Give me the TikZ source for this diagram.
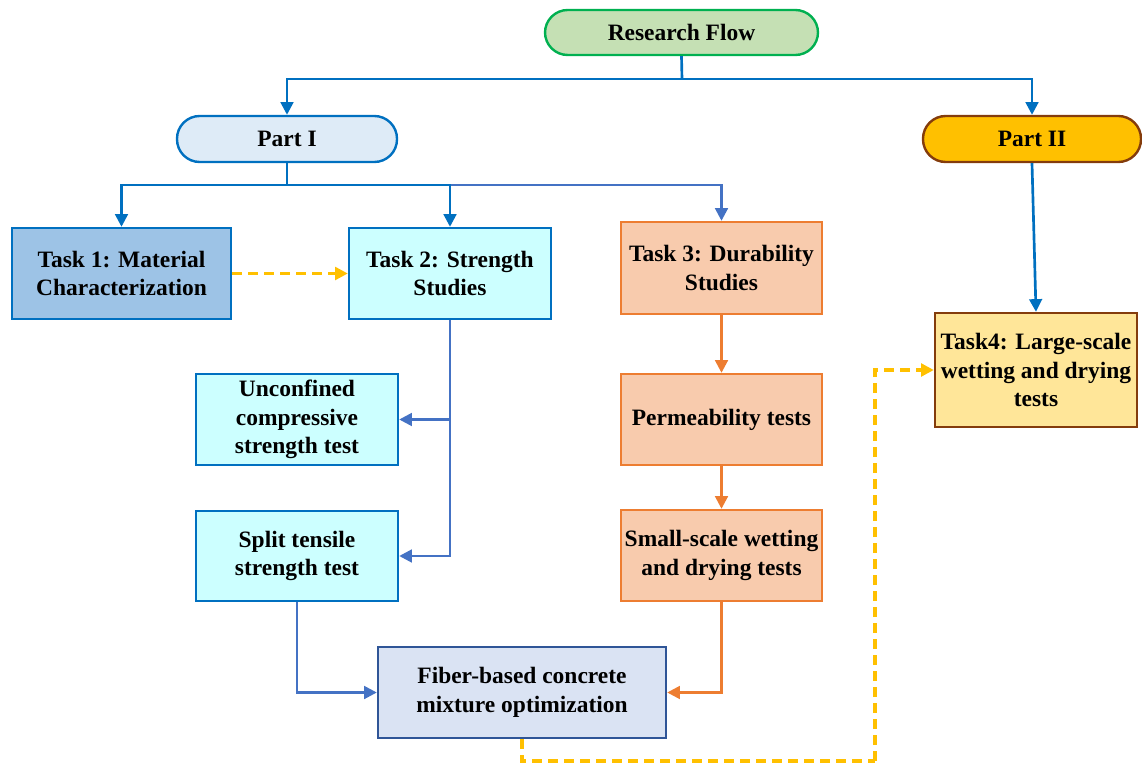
\documentclass[tikz,border=0pt]{standalone}
\usepackage{fontspec}
\setmainfont{Liberation Serif}
\usetikzlibrary{arrows.meta}
\definecolor{rfF}{HTML}{C5E0B4}\definecolor{rfD}{HTML}{00B050}
\definecolor{pIF}{HTML}{DEEBF7}\definecolor{bluD}{HTML}{0070C0}
\definecolor{pIIF}{HTML}{FFC000}\definecolor{brnD}{HTML}{843C0C}
\definecolor{tAF}{HTML}{9DC3E6}\definecolor{cyF}{HTML}{CCFFFF}
\definecolor{orF}{HTML}{F8CBAD}\definecolor{orD}{HTML}{ED7D31}
\definecolor{fbF}{HTML}{DAE3F3}\definecolor{fbD}{HTML}{2F5597}
\definecolor{t4F}{HTML}{FFE699}\definecolor{lbl}{HTML}{4472C4}
\definecolor{yel}{HTML}{FFC000}
\tikzset{
  box/.style={draw, line width=1.8pt, inner sep=0pt, align=center,
    font=\fontsize{17.6}{21.6}\selectfont\bfseries},
  pill/.style={box, rounded corners=17pt},
  tip/.style={-{Triangle[length=9.5pt,width=9.5pt]}},
  conn/.style={line width=2pt, tip},
  plain/.style={line width=2pt},
  dsh/.style={line width=2.3pt, yel, dash pattern=on 7.5pt off 4.5pt},
}
\begin{document}
\begin{tikzpicture}[x=0.75pt,y=-0.75pt]
\useasboundingbox (0,0) rectangle (1142,763);
% nodes
\node[pill, fill=rfF, draw=rfD, minimum width=273*0.75pt, minimum height=45*0.75pt] (rf) at (681.5,32.5) {Research Flow};
\node[pill, fill=pIF, draw=bluD, minimum width=220*0.75pt, minimum height=46*0.75pt] (p1) at (287,139) {Part I};
\node[pill, fill=pIIF, draw=brnD, minimum width=218*0.75pt, minimum height=46*0.75pt] (p2) at (1032,139) {Part II};
\node[box, fill=tAF, draw=bluD, minimum width=219*0.75pt, minimum height=91*0.75pt] (t1) at (121.5,273.5) {Task 1: Material\\Characterization};
\node[box, fill=cyF, draw=bluD, minimum width=202*0.75pt, minimum height=91*0.75pt] (t2) at (450,273.5) {Task 2: Strength\\Studies};
\node[box, fill=orF, draw=orD, minimum width=201*0.75pt, minimum height=92*0.75pt] (t3) at (721.5,268) {Task 3: Durability\\Studies};
\node[box, fill=cyF, draw=bluD, minimum width=202*0.75pt, minimum height=91*0.75pt] (ucs) at (297,419.5) {Unconfined\\compressive\\strength test};
\node[box, fill=cyF, draw=bluD, minimum width=202*0.75pt, minimum height=90*0.75pt] (spl) at (297,556) {Split tensile\\strength test};
\node[box, fill=orF, draw=orD, minimum width=201*0.75pt, minimum height=91*0.75pt] (perm) at (721.5,419.5) {Permeability tests};
\node[box, fill=orF, draw=orD, minimum width=201*0.75pt, minimum height=91*0.75pt] (sm) at (721.5,555.5) {Small-scale wetting\\and drying tests};
\node[box, fill=fbF, draw=fbD, minimum width=288*0.75pt, minimum height=91*0.75pt] (fb) at (522,692.5) {Fiber-based concrete\\mixture optimization};
\node[box, fill=t4F, draw=brnD, minimum width=202*0.75pt, minimum height=114*0.75pt] (t4) at (1036,370) {Task4: Large-scale\\wetting and drying\\tests};
% junctions
\coordinate (j1) at (682,79);
\coordinate (j2) at (287,185);
\coordinate (d1) at (875,761);
% connectors
\draw[plain, bluD] (rf.south) -- (j1);
\draw[conn, bluD] (j1) -| (p1.north);
\draw[conn, bluD] (j1) -| (p2.north);
\draw[plain, bluD] (p1.south) -- (j2);
\draw[conn, lbl] (j2) -| (t3.north);
\draw[conn, bluD] (j2) -| (t1.north);
\draw[conn, bluD] (j2) -| (t2.north);
\draw[dsh, tip] (t1.east) -- (t2.west);
\draw[conn, lbl] (t2.south) |- (spl.east);
\draw[conn, lbl] (t2.south |- ucs.east) -- (ucs.east);
\draw[conn, lbl] (spl.south) |- (fb.west);
\draw[conn, orD] (t3.south) -- (perm.north);
\draw[conn, orD] (perm.south) -- (sm.north);
\draw[conn, orD] (sm.south) |- (fb.east);
\draw[conn, bluD] (p2.south) -- (t4.north);
\draw[dsh] (fb.south) |- (d1);
\draw[dsh, tip] (d1) |- (t4.west);
\end{tikzpicture}
\end{document}
